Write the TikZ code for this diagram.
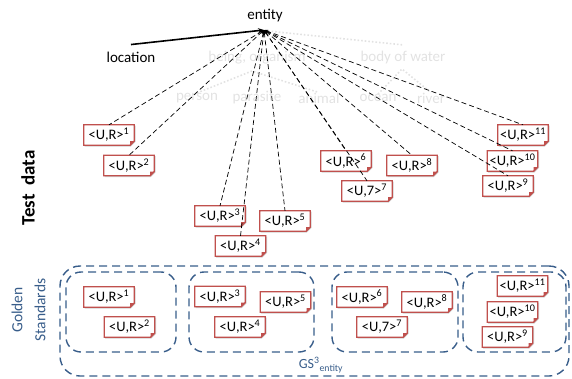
\documentclass[tikz,border=0pt]{standalone}
\usepackage{fontspec}
\setmainfont{Carlito}
\usetikzlibrary{arrows.meta,calc}

\definecolor{boxred}{RGB}{192,80,77}
\definecolor{gsblue}{RGB}{56,93,138}
\definecolor{faint}{RGB}{226,226,226}

\tikzset{
  lbl/.style={inner sep=0pt, font=\fontsize{15}{18}\selectfont},
  ghost/.style={lbl, text=faint},
  ghostline/.style={faint, line width=1.6pt, dotted},
  urnode/.style={fill=white, inner sep=0pt, minimum width=50pt, minimum height=20pt,
                 font=\fontsize{14.5}{17}\selectfont},
  urframe/.style={boxred, line width=1.3pt, line join=miter},
  urshadow/.style={black!18, line width=1.3pt},
  dashline/.style={black, line width=0.7pt, dash pattern=on 5pt off 3pt,
                   {Stealth[length=4pt,width=3pt]}-},
  grp/.style={draw=gsblue, line width=1.4pt, dash pattern=on 8pt off 5pt,
              rounded corners=15pt, inner sep=0pt},
}

% a <U,x> data box with a folded bottom-right corner
\newcommand\urbox[4]{%
  \node[urnode] (#1) at (#2) {\textless U,#3\textgreater\textsuperscript{#4}};
  \draw[urshadow] ([shift={(0.8pt,-0.8pt)}]#1.north east) -- ([shift={(0.8pt,3.8pt)}]#1.south east)
                  -- ([shift={(-3.8pt,-0.8pt)}]#1.south east) -- ([shift={(0.8pt,-0.8pt)}]#1.south west);
  \draw[urframe] (#1.north west) -- (#1.north east) -- ([yshift=4pt]#1.south east)
                 -- ([xshift=-4pt]#1.south east) -- (#1.south west) -- cycle;
  \fill[boxred] ([yshift=4pt]#1.south east) -- ([xshift=-4pt]#1.south east)
                -- ([xshift=-4pt,yshift=4pt]#1.south east) -- cycle;
}

\begin{document}
\begin{tikzpicture}[x=1pt,y=-1pt]
\useasboundingbox (0,0) rectangle (572,378);

% faint background taxonomy
\node[ghost] (being)  at (257,58) {being, organism};
\node[ghost] (water)  at (403,57) {body of water};
\node[ghost] (person) at (197,98) {person};
\node[ghost] (parasite) at (257,98) {parasite};
\node[ghost] (animal) at (319,98) {animal};
\node[ghost] (ocean)  at (378,98) {ocean};
\node[ghost] (river)  at (431,98) {river};
\coordinate (bpeak) at (252,71);
\coordinate (wpeak) at (402,69);
\draw[ghostline] (268,31) -- (404,45);
\draw[ghostline] (person.north) -- (bpeak) -- (animal.north);
\draw[ghostline] (ocean.north) -- (wpeak) -- (river.north);

% top of the hierarchy
\node[lbl] (entity) at (265,16) {entity};
\node[lbl] (location) at (131,57) {location};
\coordinate (etip) at (264,30);
\draw[line width=1.6pt, -{Stealth[length=6pt,width=5pt]}] ([yshift=7pt]location.north) -- (etip);

% test data
\node[rotate=90, inner sep=0pt, font=\bfseries\fontsize{19}{22}\selectfont] (testlbl) at (28,188) {Test\ \ data};

\urbox{t1}{109,135}{R}{1}
\urbox{t2}{129,165.5}{R}{2}
\urbox{t3}{220,216}{R}{3}
\urbox{t4}{240.5,246}{R}{4}
\urbox{t5}{285,221}{R}{5}
\urbox{t6}{346,161}{R}{6}
\urbox{t7}{367,191}{7}{7}
\urbox{t8}{412,165.5}{R}{8}
\urbox{t9}{508,186}{R}{9}
\urbox{t10}{512.5,161}{R}{10}
\urbox{t11}{523,135}{R}{11}

\foreach \b in {t1,t2,t3,t4,t5,t6,t7,t8,t9,t10,t11}
  \draw[dashline] (etip) -- (\b.north);

% golden standards
\node[rotate=90, align=center, inner sep=0pt, text=gsblue,
      font=\fontsize{15.5}{23}\selectfont] (gslbl) at (28.5,310) {Golden\\Standards};

\node[grp, rounded corners=20pt, minimum width=509pt, minimum height=110pt] (gsall) at (314.5,321) {};
\node[grp, minimum width=110pt, minimum height=80pt] (gA) at (121,312) {};
\node[grp, minimum width=125pt, minimum height=80pt] (gB) at (251.5,312) {};
\node[grp, minimum width=126pt, minimum height=80pt] (gC) at (395,312) {};
\node[grp, minimum width=103pt, minimum height=80pt] (gD) at (514.5,312) {};

\node[inner sep=0pt, text=gsblue, font=\fontsize{14}{16}\selectfont] (gsname) at (321,365)
  {GS\textsuperscript{3}\textsubscript{entity}};

\urbox{g1}{109,297}{R}{1}
\urbox{g2}{129.5,327}{R}{2}
\urbox{g3}{220,296.5}{R}{3}
\urbox{g4}{240,327}{R}{4}
\urbox{g5}{285.5,302}{R}{5}
\urbox{g6}{362,297}{R}{6}
\urbox{g7}{382,327}{7}{7}
\urbox{g8}{427,302}{R}{8}
\urbox{g9}{507.5,337}{R}{9}
\urbox{g10}{512.5,312}{R}{10}
\urbox{g11}{522.5,286}{R}{11}
\end{tikzpicture}
\end{document}
